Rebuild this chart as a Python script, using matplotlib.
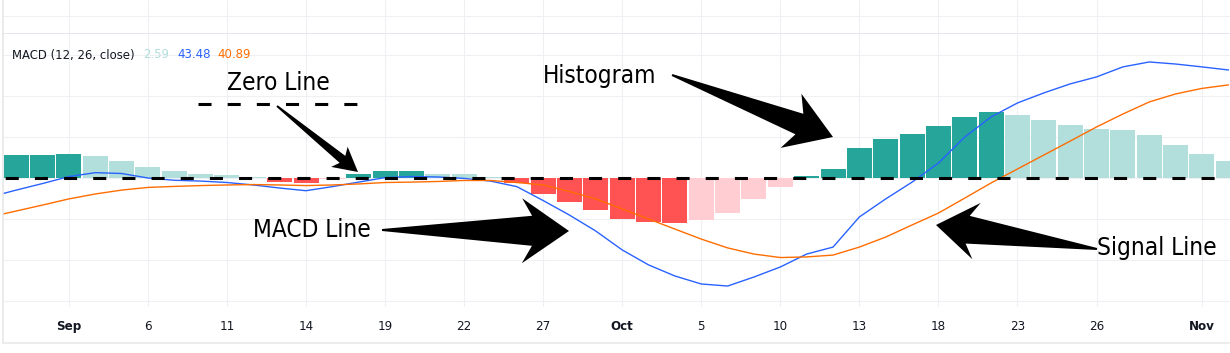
import numpy as np
import matplotlib.pyplot as plt
from matplotlib.patches import Polygon
from matplotlib.lines import Line2D

plt.rcParams["font.family"] = ["DejaVu Sans"]
plt.rcParams["font.stretch"] = "condensed"
plt.rcParams["lines.scale_dashes"] = False

W, H = 1230, 353

# bar -1 sits just off the left edge, only its line segment shows
bars = np.arange(-1, 47)
macd = [-9.3, -5.9, -2.7, 0.7, 2.6, 2.2, 0.0, -1.1, -1.5, -2.2, -3.4, -4.9,
        -6.2, -4.2, -2.0, 0.2, 0.7, 0.5, -0.2, -1.5, -4.2, -11.0, -18.1,
        -25.9, -35.1, -42.4, -47.8, -51.7, -52.7, -48.3, -43.4, -37.1, -33.7,
        -19.0, -10.2, -2.0, 7.3, 20.0, 29.8, 36.6, 41.5, 45.9, 49.3, 54.2,
        56.6, 55.6, 54.2, 52.7]
signal = [-19.0, -16.1, -13.2, -10.2, -7.8, -5.9, -4.6, -4.1, -3.7, -3.4,
          -3.2, -3.4, -3.7, -3.4, -2.9, -2.2, -2.0, -1.7, -1.2, -1.2, -2.2,
          -3.4, -6.6, -10.2, -15.1, -20.0, -24.9, -29.8, -34.1, -37.1, -38.8,
          -38.5, -37.6, -33.7, -28.8, -22.9, -17.1, -9.8, -2.4, 4.4, 11.2,
          18.0, 24.9, 31.2, 37.1, 41.0, 43.7, 45.4]
hist = [9.8, 11.2, 11.4, 11.7, 10.7, 8.3, 5.4, 3.4, 2.0, 1.5, 0.5, -2.0,
        -2.4, -0.5, 2.0, 3.2, 3.4, 2.0, 1.9, 0.7, -2.4, -7.8, -11.5, -15.6,
        -20.0, -21.7, -22.0, -20.7, -17.3, -10.2, -4.6, 1.2, 4.5, 14.8, 19.0,
        21.5, 25.4, 29.8, 32.2, 30.7, 28.3, 25.9, 23.9, 23.4, 21.0, 16.1,
        11.7, 8.3]

tick_pos = [2, 5, 8, 11, 14, 17, 20, 23, 26, 29, 32, 35, 38, 41, 45]
tick_labels = ["Sep", "6", "11", "14", "19", "22", "27", "Oct", "5", "10",
               "13", "18", "23", "26", "Nov"]
months = ["Sep", "Oct", "Nov"]

legend_title = "MACD (12, 26, close)"
legend_vals = ["2.59", "43.48", "40.89"]

TEAL = "#26A69A"
TEAL_LIGHT = "#B2DFDB"
RED = "#FF5252"
PINK = "#FFCDD2"
BLUE = "#2962FF"
ORANGE = "#FF6D00"
GRID = "#eef0f4"
TEXT = "#131722"


def hist_colors(h):
    cols = []
    for i, v in enumerate(h):
        prev = h[i - 1] if i > 0 else v
        if v >= 0:
            cols.append(TEAL if v > prev else TEAL_LIGHT)
        else:
            cols.append(PINK if v > prev else RED)
    return cols


def fxy(x, y):
    return x / W, 1 - y / H


def arrow_shape(tail, tip, head_len, head_w, tail_w, sweep=0.0, start_w=2.0):
    tail = np.array(tail, float)
    tip = np.array(tip, float)
    u = (tip - tail) / np.linalg.norm(tip - tail)
    n = np.array([-u[1], u[0]])
    base = tip - u * head_len
    neck = base + u * sweep
    pts = [tail + n * start_w / 2, neck + n * tail_w / 2, base + n * head_w / 2,
           tip, base - n * head_w / 2, neck - n * tail_w / 2,
           tail - n * start_w / 2]
    return [fxy(*p) for p in pts]


fig = plt.figure(figsize=(W / 100, H / 100), dpi=100)

px_per_bar = 26.35
x_left = -0.5
x_right = -0.5 + (W - 3) / px_per_bar

# small strip of the price pane above
ax_top = fig.add_axes([3 / W, 1 - 34 / H, (W - 3) / W, 34 / H])
ax_top.set_xlim(x_left, x_right)
ax_top.set_ylim(0, 34)
ax_top.set_xticks(tick_pos)
ax_top.set_yticks([18])
ax_top.grid(True, color=GRID, lw=0.8)
ax_top.tick_params(length=0, labelbottom=False, labelleft=False)
for s in ["top", "left", "right"]:
    ax_top.spines[s].set_visible(False)
ax_top.spines["bottom"].set_color("#e0e3eb")
ax_top.spines["bottom"].set_linewidth(1.2)

# MACD pane
ax = fig.add_axes([3 / W, 1 - 307 / H, (W - 3) / W, (307 - 34) / H])
ax.set_xlim(x_left, x_right)
ax.set_ylim((178 - 307) * 20 / 41, (178 - 34) * 20 / 41)

ax.bar(bars, hist, width=0.95, color=hist_colors(hist), zorder=2)
ax.plot(bars, macd, color=BLUE, lw=1.0, zorder=3)
ax.plot(bars, signal, color=ORANGE, lw=1.0, zorder=3)
ax.axhline(0, color="black", lw=2.2, linestyle=(19.4, (9.4, 11.6)), zorder=4)

ax.set_yticks([-60, -40, -20, 0, 20, 40, 60])
ax.set_xticks(tick_pos, tick_labels)
ax.grid(True, color=GRID, lw=0.8, zorder=0)
ax.set_axisbelow(True)
ax.tick_params(axis="y", length=0, labelleft=False)
ax.tick_params(axis="x", length=0, pad=9.5, labelsize=9.5, labelcolor=TEXT)
for lab in ax.get_xticklabels():
    if lab.get_text() in months:
        lab.set_fontweight("bold")
for s in ax.spines.values():
    s.set_visible(False)

# outer frame of the chart
fig.add_artist(Line2D([3 / W, 3 / W], [1, 1 - 343 / H], color="#e6e6e6",
                      lw=1.1, transform=fig.transFigure))
fig.add_artist(Line2D([3 / W, 1], [1 - 343 / H, 1 - 343 / H], color="#ececec",
                      lw=1.5, transform=fig.transFigure))

# legend
fig.text(*fxy(12, 55), legend_title, color=TEXT, fontsize=9.4, va="center")
for xv, val, col in zip([143, 177, 217], legend_vals, [TEAL_LIGHT, BLUE, ORANGE]):
    fig.text(*fxy(xv, 55), val, color=col, fontsize=9.4, va="center")

# annotations
fig.add_artist(Line2D([198 / W, 357 / W], [1 - 104 / H, 1 - 104 / H],
                      color="black", lw=2.2, linestyle=(0, (9.4, 11.6)),
                      transform=fig.transFigure))
notes = [("Zero Line", 278, 90), ("Histogram", 600, 83),
         ("MACD Line", 312, 237), ("Signal Line", 1157, 255)]
for txt, x, y in notes:
    fig.text(*fxy(x, y), txt, fontsize=17.5, ha="center", va="baseline",
             color="black")

arrows = [((277, 106), (358, 172), 24, 26, 9, 4),
          ((672, 75), (833, 137), 45, 58, 22, 9),
          ((382, 230), (569, 231), 47, 65, 30, 10),
          ((1097, 249), (936, 225), 41, 57, 28, 9)]
for tail, tip, hl, hw, tw, sw in arrows:
    fig.add_artist(Polygon(arrow_shape(tail, tip, hl, hw, tw, sw), closed=True,
                           facecolor="black", edgecolor="none",
                           transform=fig.transFigure, zorder=6))

fig.savefig("out.png", dpi=100)
